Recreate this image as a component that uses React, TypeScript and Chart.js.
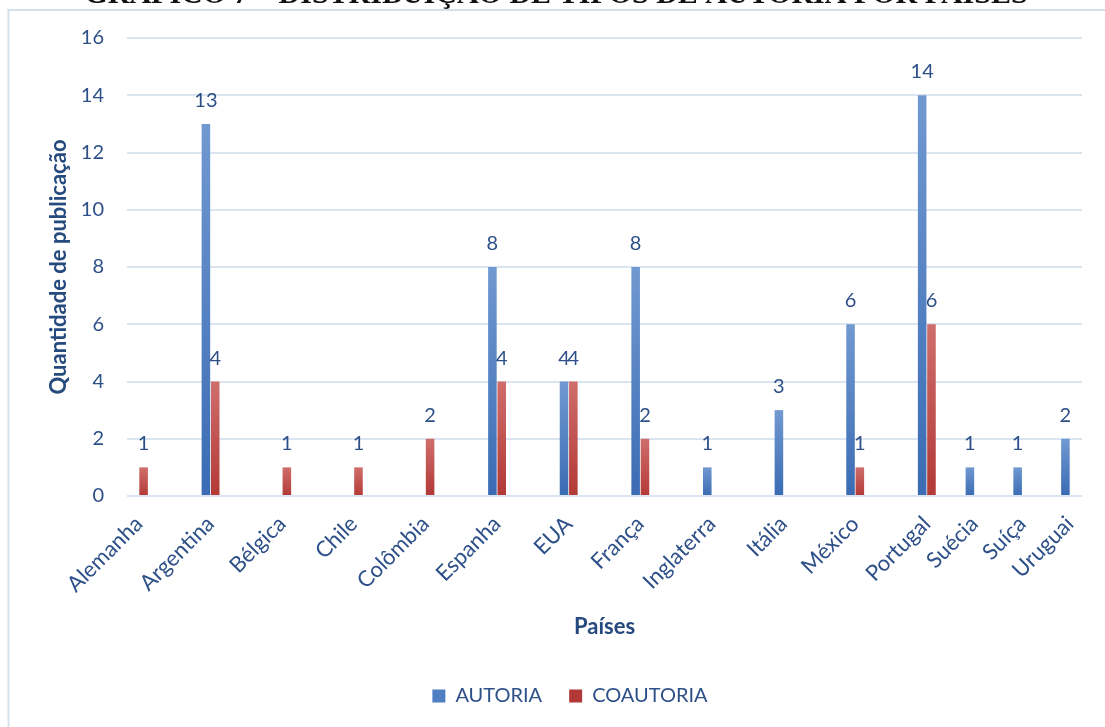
import { useEffect, useRef } from 'react';
import { Chart, registerables } from 'chart.js';

Chart.register(...registerables);

// ---- data ----
const chartTitle = 'GRÁFICO 7 – DISTRIBUIÇÃO DE TIPOS DE AUTORIA POR PAÍSES';
const categories = [
  'Alemanha', 'Argentina', 'Bélgica', 'Chile', 'Colômbia', 'Espanha', 'EUA', 'França',
  'Inglaterra', 'Itália', 'México', 'Portugal', 'Suécia', 'Suíça', 'Uruguai',
];
const autoria: (number | null)[] = [null, 13, null, null, null, 8, 4, 8, 1, 3, 6, 14, 1, 1, 2];
const coautoria: (number | null)[] = [1, 4, 1, 1, 2, 4, 4, 2, null, null, 1, 6, null, null, null];
const seriesNames = ['AUTORIA', 'COAUTORIA'];
const xAxisTitle = 'Países';
const yAxisTitle = 'Quantidade de publicação';
const yMin = 0;
const yMax = 16;
const yStep = 2;

// how many category slots each country takes on the x axis
const slotSpans = [3, 3, 3, 3, 3, 3, 3, 3, 3, 3, 3, 2, 2, 2, 1];

// ---- styling ----
const FONT = 'Lato';
const TEXT = '#2d5088';
const TITLE_TEXT = '#254a7e';
const GRID = '#dbe5f2';
const FRAME = '#d6e1ee';

function spread<T>(values: T[], blank: T): T[] {
  const out: T[] = [];
  values.forEach((v, i) => {
    out.push(v);
    for (let k = 1; k < slotSpans[i]; k++) out.push(blank);
  });
  return out;
}

const gradientFill = (top: string, bottom: string, flat: string) => (c: any) => {
  if (c.type !== 'data') return flat;
  const chart = c.chart;
  const ys = chart.scales?.y;
  if (!chart.chartArea || !ys || c.raw == null) return flat;
  const y0 = ys.getPixelForValue(c.raw);
  const y1 = ys.getPixelForValue(0);
  if (!isFinite(y0) || !isFinite(y1) || y0 === y1) return flat;
  const g = chart.ctx.createLinearGradient(0, y0, 0, y1);
  g.addColorStop(0, top);
  g.addColorStop(1, bottom);
  return g;
};

// frame around the chart and the caption line above it
const framePlugin = {
  id: 'frame',
  beforeDraw(chart: any) {
    const ctx = chart.ctx;
    ctx.save();
    ctx.fillStyle = '#ffffff';
    ctx.fillRect(0, 0, chart.width, chart.height);
    ctx.font = `bold 30px "Liberation Serif"`;
    ctx.fillStyle = '#111111';
    ctx.textAlign = 'center';
    ctx.textBaseline = 'alphabetic';
    ctx.fillText(chartTitle, 556, 3);
    ctx.fillStyle = FRAME;
    ctx.fillRect(7.5, 9, chart.width - 7.5, 2);
    ctx.fillRect(7.5, 9, 2, chart.height - 9);
    ctx.restore();
  },
};

// value written above each bar
const valueLabels = {
  id: 'valueLabels',
  afterDatasetsDraw(chart: any) {
    const ctx = chart.ctx;
    ctx.save();
    ctx.font = `20px ${FONT}`;
    ctx.fillStyle = TEXT;
    ctx.textAlign = 'center';
    ctx.textBaseline = 'alphabetic';
    chart.data.datasets.forEach((ds: any, di: number) => {
      const meta = chart.getDatasetMeta(di);
      meta.data.forEach((el: any, i: number) => {
        const v = ds.data[i];
        if (v == null) return;
        ctx.fillText(String(v), el.x, el.y - 17);
      });
    });
    ctx.restore();
  },
};

export default function App() {
  const canvasRef = useRef<HTMLCanvasElement | null>(null);

  useEffect(() => {
    document.documentElement.style.overflow = 'hidden';
    let chart: Chart | null = null;
    let cancelled = false;

    const build = () => {
      if (cancelled || !canvasRef.current) return;
      const PAD_LEFT = 58;
      const AXIS_TITLE_SIZE = 22;
      const titleHalf = (AXIS_TITLE_SIZE * 1.2) / 2;
      chart = new Chart(canvasRef.current, {
        type: 'bar',
        data: {
          labels: spread(categories, ''),
          datasets: [
            {
              label: seriesNames[0],
              data: spread(autoria, null),
              backgroundColor: gradientFill('#7199d1', '#3a6bb3', '#4f7fc2'),
              categoryPercentage: 0.78,
              barPercentage: 0.92,
            },
            {
              label: seriesNames[1],
              data: spread(coautoria, null),
              backgroundColor: gradientFill('#cf6e6c', '#b23936', '#c0504d'),
              categoryPercentage: 0.78,
              barPercentage: 0.92,
            },
          ],
        },
        options: {
          responsive: false,
          animation: false,
          devicePixelRatio: 1,
          layout: { padding: { left: PAD_LEFT, right: 23, top: 38, bottom: 11 } },
          plugins: {
            tooltip: { enabled: false },
            title: { display: false },
            legend: {
              position: 'bottom',
              labels: {
                boxWidth: 13,
                boxHeight: 13,
                padding: 27,
                color: TEXT,
                font: { family: FONT, size: 20 },
              },
            },
          },
          scales: {
            x: {
              type: 'category',
              offset: true,
              grid: { display: false },
              border: { display: false },
              ticks: {
                autoSkip: false,
                minRotation: 45,
                maxRotation: 45,
                padding: 7,
                color: TEXT,
                font: { family: FONT, size: 22 },
              },
              title: {
                display: true,
                text: xAxisTitle,
                color: TITLE_TEXT,
                font: { family: FONT, size: AXIS_TITLE_SIZE, weight: 'bold' },
                padding: { top: 0, bottom: 659 - 627 - titleHalf },
              },
              afterFit: (s: any) => {
                s.height = 163;
              },
            },
            y: {
              min: yMin,
              max: yMax,
              ticks: {
                stepSize: yStep,
                padding: 23,
                color: TEXT,
                font: { family: FONT, size: 20 },
              },
              grid: { color: GRID, lineWidth: 2, drawTicks: false },
              border: { display: false },
              title: {
                display: true,
                text: yAxisTitle,
                color: TITLE_TEXT,
                font: { family: FONT, size: AXIS_TITLE_SIZE, weight: 'bold' },
                padding: { top: 58.5 - PAD_LEFT - titleHalf, bottom: 0 },
              },
              afterFit: (s: any) => {
                s.width = 127 - PAD_LEFT;
              },
            },
          },
        },
        plugins: [framePlugin, valueLabels],
      } as any);
    };

    const fonts = (document as any).fonts;
    if (fonts && fonts.load) {
      Promise.all([
        fonts.load(`20px ${FONT}`),
        fonts.load(`bold 20px ${FONT}`),
        fonts.load(`bold 30px "Liberation Serif"`),
      ])
        .catch(() => undefined)
        .then(build);
    } else {
      build();
    }

    return () => {
      cancelled = true;
      if (chart) chart.destroy();
    };
  }, []);

  return (
    <div style={{ position: 'fixed', left: 0, top: 0, width: 1105, height: 727, background: '#fff' }}>
      <canvas ref={canvasRef} width={1105} height={727} style={{ display: 'block', width: 1105, height: 727 }} />
    </div>
  );
}
